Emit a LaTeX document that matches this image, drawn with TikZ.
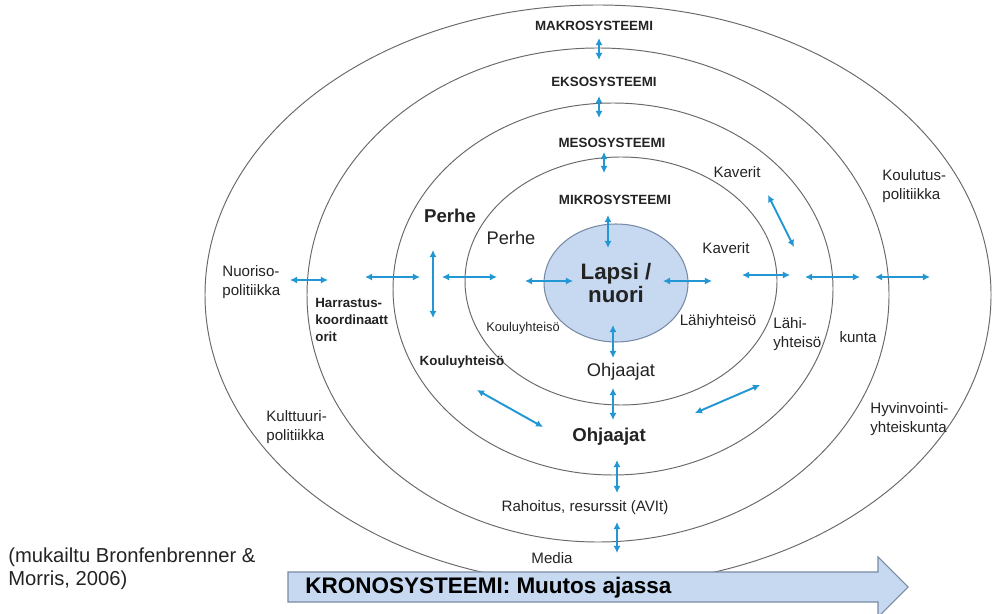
\documentclass[tikz,border=0pt]{standalone}
\usepackage{fontspec}
\setmainfont{Liberation Sans}
\usepackage{tikz}
\usetikzlibrary{arrows.meta,shapes.geometric}
\definecolor{ringgray}{RGB}{105,105,105}
\definecolor{linkblue}{RGB}{35,150,212}
\definecolor{childfill}{RGB}{198,217,241}
\definecolor{childline}{RGB}{120,138,165}
\definecolor{inkgray}{RGB}{35,35,35}
\tikzstyle{ring}=[draw=ringgray,line width=0.55pt]
\tikzstyle{link}=[draw=linkblue,line width=1.1pt,{Latex[length=4pt,width=4pt]}-{Latex[length=4pt,width=4pt]}]
\tikzstyle{sys}=[text=inkgray,font=\fontsize{7.6}{9}\selectfont\bfseries,inner sep=0pt]
\tikzstyle{lbl}=[text=inkgray,font=\fontsize{8.6}{10.4}\selectfont,inner sep=0pt,align=left]
\tikzstyle{small}=[text=inkgray,font=\fontsize{7.3}{9.6}\selectfont,inner sep=0pt,align=left]
\tikzstyle{smallbf}=[small,font=\fontsize{7.6}{9.6}\selectfont\bfseries]
\tikzstyle{big}=[text=inkgray,font=\fontsize{10.4}{12}\selectfont,inner sep=0pt]
\tikzstyle{bigbf}=[big,font=\fontsize{10.6}{12}\selectfont\bfseries]
\tikzstyle{child}=[ellipse,draw=childline,fill=childfill,line width=0.6pt,
  minimum width=2.88cm,minimum height=2.36cm,inner sep=0pt,align=center,
  text=inkgray,font=\fontsize{12.7}{13.5}\selectfont\bfseries]

\begin{document}
\begin{tikzpicture}[x=0.02cm,y=-0.02cm]
  \useasboundingbox (0,0) rectangle (996,614);
  % system rings
  \draw[ring] (598,295) ellipse [x radius=393, y radius=290];
  \draw[ring] (598,295) ellipse [x radius=291, y radius=247];
  \draw[ring] (613,289) ellipse [x radius=220, y radius=186];
  \draw[ring] (621,281) ellipse [x radius=156, y radius=124];
  \node[child] (lapsi) at (616,283) {Lapsi /\\nuori};

  % time arrow
  \draw[draw=childline,fill=childfill,line width=0.6pt]
    (288,572) -- (878,572) -- (878,557) -- (908,587) -- (878,617)
    -- (878,602) -- (288,602) -- cycle;
  \node[anchor=west,text=black,font=\fontsize{12.8}{14}\selectfont\bfseries,inner sep=0pt]
    (krono) at (305,588) {KRONOSYSTEEMI: Muutos ajassa};
  \node[anchor=west,align=left,text=inkgray,font=\fontsize{11.5}{13.1}\selectfont,inner sep=0pt]
    (lahde) at (8,569) {(mukailtu Bronfenbrenner \&\\Morris, 2006)};

  % system names
  \node[sys] (makro) at (594,26) {MAKROSYSTEEMI};
  \node[sys] (ekso) at (604,82) {EKSOSYSTEEMI};
  \node[sys] (meso) at (612,143) {MESOSYSTEEMI};
  \node[sys] (mikro) at (615,200) {MIKROSYSTEEMI};

  % labels
  \node[bigbf] (perhe2) at (450,216) {Perhe};
  \node[big] (perhe1) at (511,238) {Perhe};
  \node[small] (koulu1) at (523,328) {Kouluyhteisö};
  \node[smallbf] (koulu2) at (462,362) {Kouluyhteisö};
  \node[smallbf,anchor=west] (harr) at (315,320) {Harrastus-\\koordinaatt\\orit};
  \node[lbl,anchor=west] (nuoriso) at (222,282) {Nuoriso-\\politiikka};
  \node[lbl,anchor=west] (kulttuuri) at (266,427) {Kulttuuri-\\politiikka};
  \node[lbl,anchor=west] (koulutus) at (882,186) {Koulutus-\\politiikka};
  \node[lbl,anchor=west] (hyvinvointi) at (870,419) {Hyvinvointi-\\yhteiskunta};
  \node[lbl] (kaverit2) at (737,172) {Kaverit};
  \node[lbl] (kaverit1) at (726,248) {Kaverit};
  \node[lbl] (lahi1) at (718,322) {Lähiyhteisö};
  \node[lbl,anchor=west] (lahi2) at (773,334) {Lähi-\\yhteisö};
  \node[lbl] (kunta) at (858,337) {kunta};
  \node[big] (ohj1) at (621,372) {Ohjaajat};
  \node[bigbf] (ohj2) at (609,437) {Ohjaajat};
  \node[lbl] (rahoitus) at (585,508) {Rahoitus, resurssit (AVIt)};
  \node[lbl] (media) at (552,558) {Media};

  % arrow ends
  \coordinate (mk1) at (599,38);  \coordinate (mk2) at (599,60);
  \coordinate (ek1) at (599,96);  \coordinate (ek2) at (599,118);
  \coordinate (ms1) at (604,152); \coordinate (ms2) at (604,173);
  \coordinate (mi1) at (608,215); \coordinate (mi2) at (608,248);
  \coordinate (oh1) at (613,325); \coordinate (oh2) at (613,358);
  \coordinate (oh3) at (613,388); \coordinate (oh4) at (613,420);
  \coordinate (ra1) at (617,460); \coordinate (ra2) at (617,493);
  \coordinate (me1) at (617,522); \coordinate (me2) at (617,553);
  \coordinate (nu1) at (290,280); \coordinate (nu2) at (328,280);
  \coordinate (ha1) at (365,277); \coordinate (ha2) at (420,277);
  \coordinate (pe1) at (433,250); \coordinate (pe2) at (433,318);
  \coordinate (pe3) at (442,277); \coordinate (pe4) at (497,277);
  \coordinate (la1) at (525,281); \coordinate (la2) at (573,281);
  \coordinate (la3) at (663,281); \coordinate (la4) at (712,281);
  \coordinate (ka1) at (742,275); \coordinate (ka2) at (790,275);
  \coordinate (ku1) at (805,277); \coordinate (ku2) at (860,277);
  \coordinate (ko1) at (875,277); \coordinate (ko2) at (930,277);
  \coordinate (kv1) at (768,195); \coordinate (kv2) at (794,247);
  \coordinate (ks1) at (477,390); \coordinate (ks2) at (543,427);
  \coordinate (lh1) at (695,413); \coordinate (lh2) at (760,385);

  \foreach \a/\b in {mk1/mk2,ek1/ek2,ms1/ms2,mi1/mi2,oh1/oh2,oh3/oh4,
      ra1/ra2,me1/me2,nu1/nu2,ha1/ha2,pe1/pe2,pe3/pe4,la1/la2,la3/la4,
      ka1/ka2,ku1/ku2,ko1/ko2,kv1/kv2,ks1/ks2,lh1/lh2}
    \draw[link] (\a) -- (\b);
\end{tikzpicture}
\end{document}
